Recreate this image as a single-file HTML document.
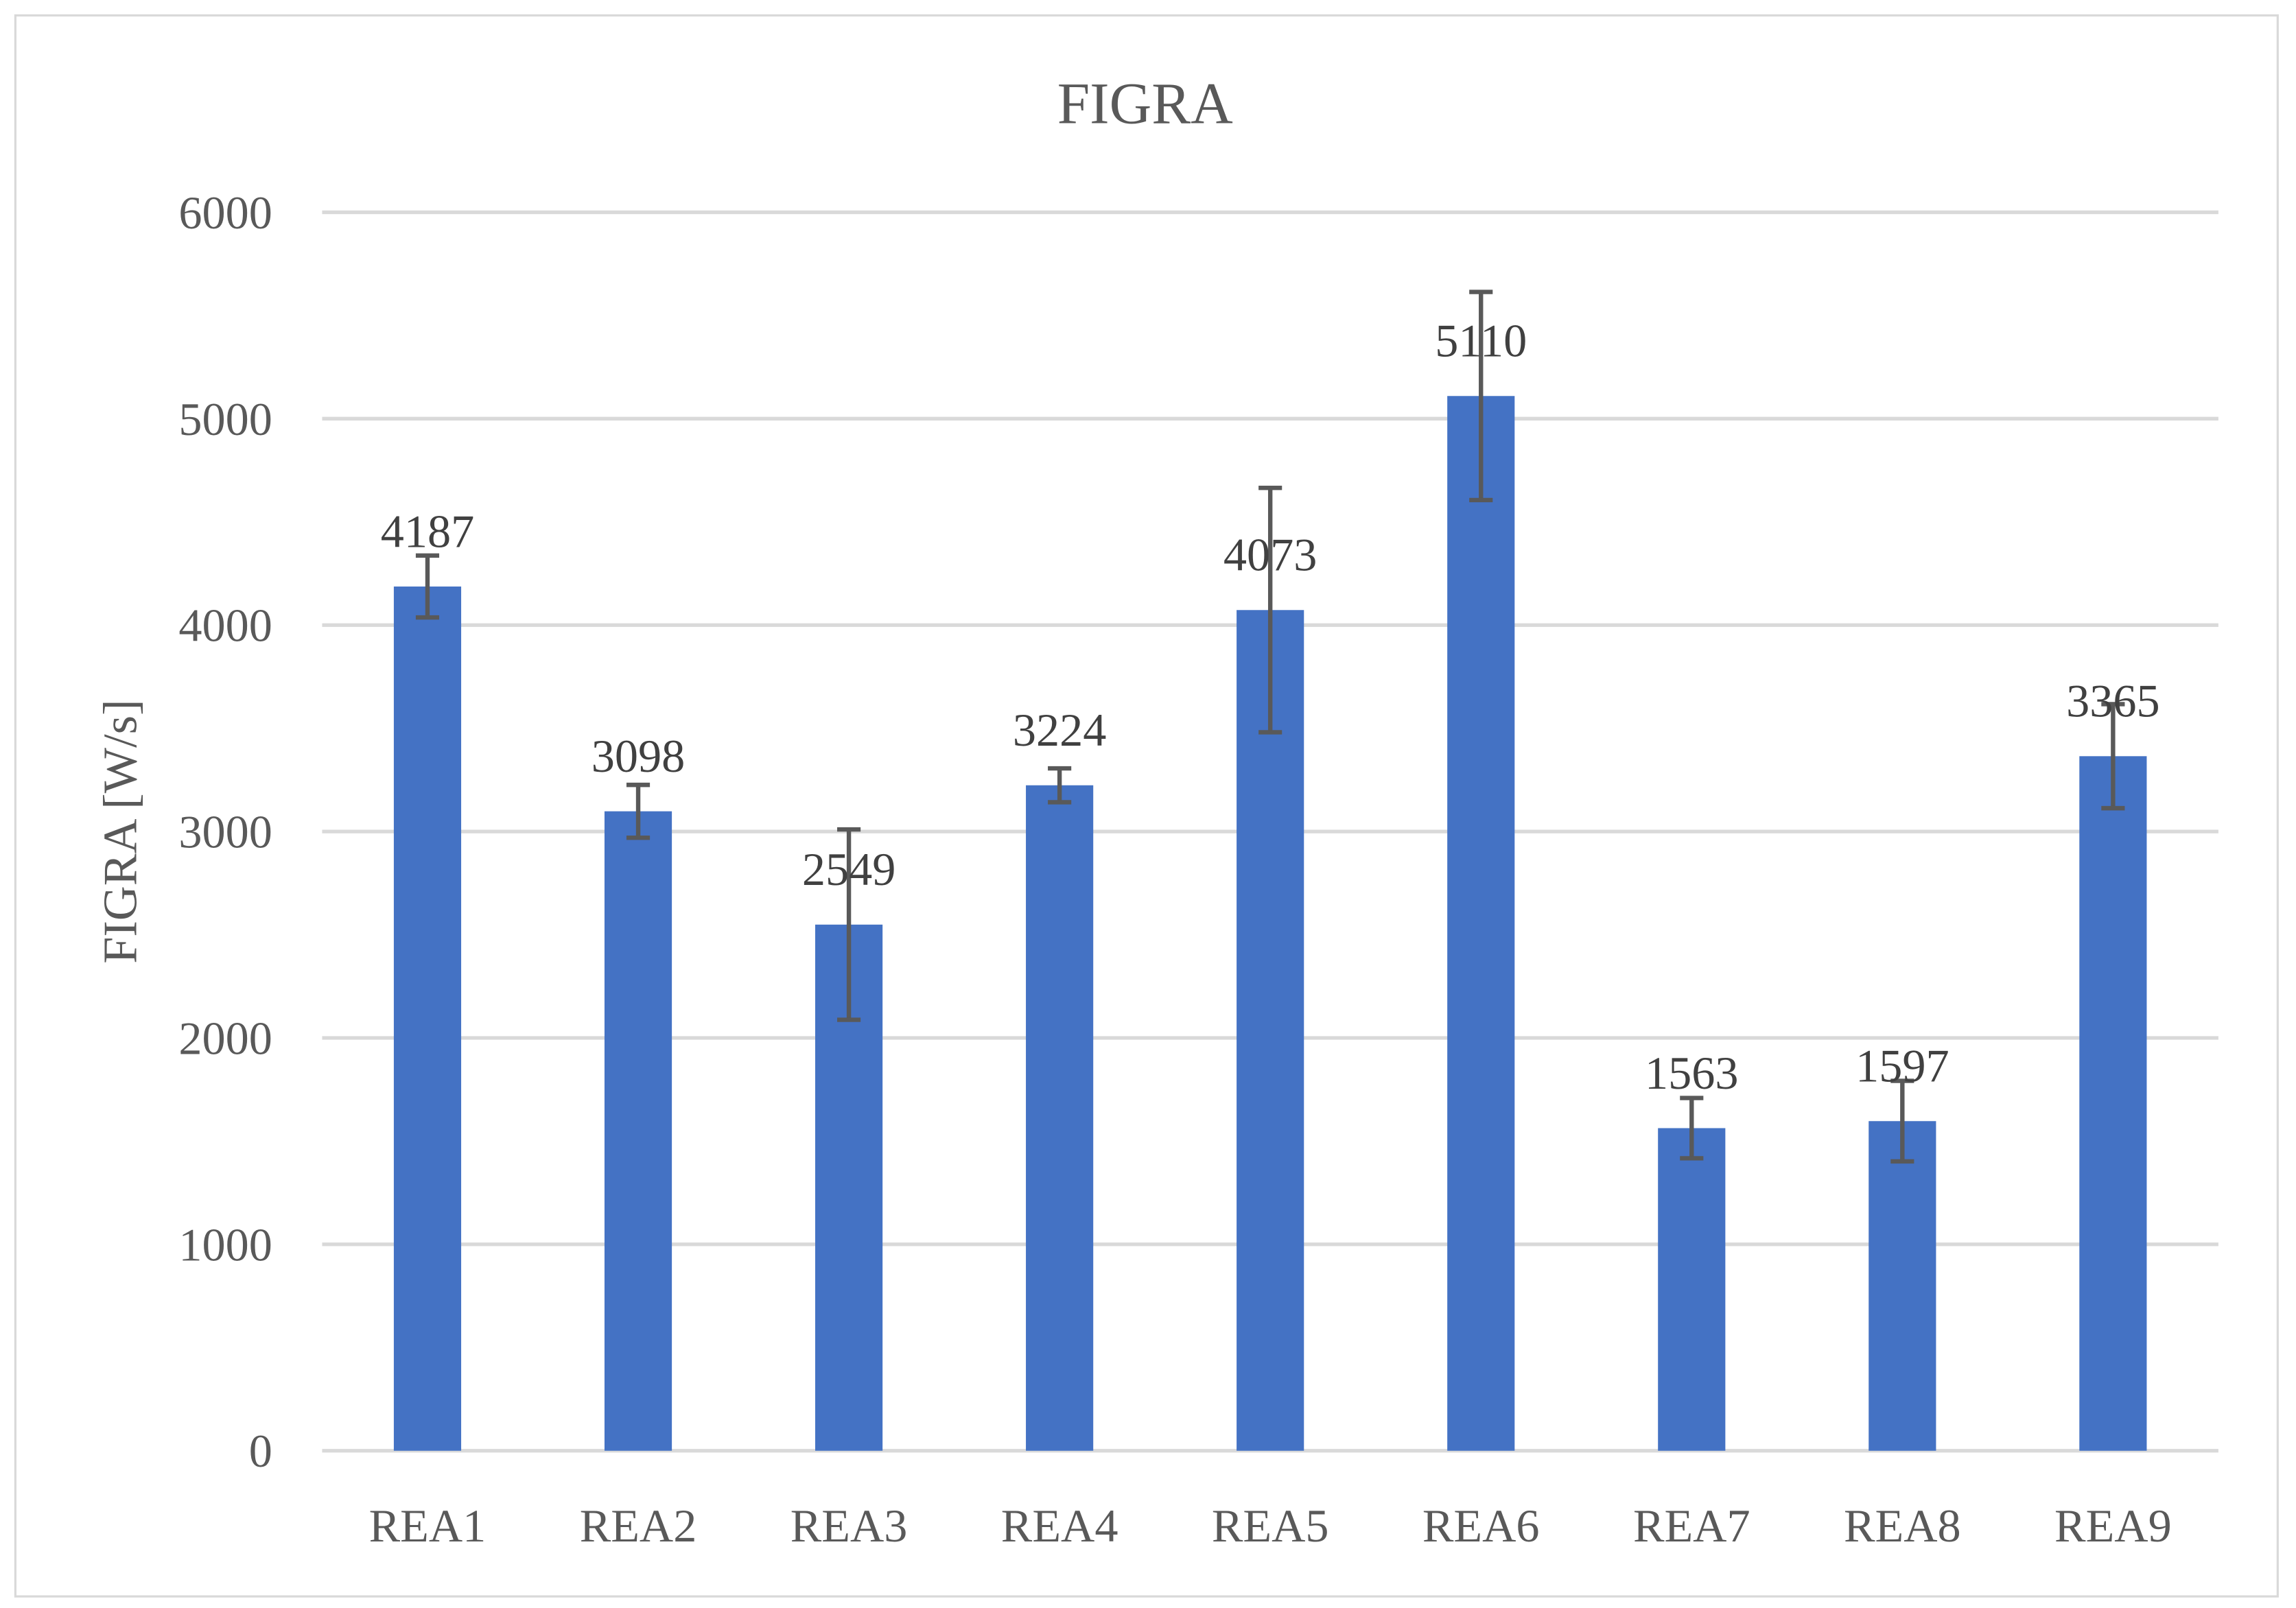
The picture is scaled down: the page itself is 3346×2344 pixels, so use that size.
<!DOCTYPE html>
<html><head><meta charset="utf-8">
<style>
html,body{margin:0;padding:0;background:#fff;}
svg{display:block;}
text{font-family:"Liberation Serif",serif;}
</style></head>
<body>
<svg id="chart" width="3346" height="2344" viewBox="0 0 1568 1098.4" xmlns="http://www.w3.org/2000/svg">
<rect x="10.5" y="10.5" width="1545" height="1080" fill="#fff" stroke="#d9d9d9" stroke-width="1.5"/>
<text x="782" y="84" font-size="40" fill="#595959" text-anchor="middle">FIGRA</text>
<text transform="translate(93,568) rotate(-90)" font-size="33" fill="#595959" text-anchor="middle">FIGRA [W/s]</text>
<g id="grid"></g><g id="bars"></g><g id="errs"></g><g id="labels"></g>
</svg>
<script>
const categories=["REA1","REA2","REA3","REA4","REA5","REA6","REA7","REA8","REA9"];
const values=[4187,3098,2549,3224,4073,5110,1563,1597,3365];
const errors=[150,128,461,82,592,504,146,195,252];
const yTicks=[0,1000,2000,3000,4000,5000,6000];
const NS="http://www.w3.org/2000/svg";
const x0=220,x1=1515,yBase=991,yTop=145,yMax=6000;
const y=v=>yBase-(v/yMax)*(yBase-yTop);
const band=(x1-x0)/categories.length;
const xc=i=>x0+band*(i+0.5);
function mk(tag,attrs,parent){const e=document.createElementNS(NS,tag);for(const k in attrs)e.setAttribute(k,attrs[k]);parent.appendChild(e);return e;}
const grid=document.getElementById('grid'),bars=document.getElementById('bars'),errs=document.getElementById('errs'),labels=document.getElementById('labels');
yTicks.forEach(t=>{
  const l=mk('line',{x1:x0,x2:x1,y1:y(t),y2:y(t),stroke:'#d9d9d9','stroke-width':2.5},grid);
  
  
  const tx=mk('text',{x:186,y:y(t)+11,'font-size':32,fill:'#595959','text-anchor':'end'},grid);
  tx.textContent=t;
  
  
});
categories.forEach((c,i)=>{
  const w=46,cx=xc(i),v=values[i],e=errors[i];
  const r=mk('rect',{x:cx-w/2,y:y(v),width:w,height:yBase-y(v),fill:'#4472c4'},bars);
  
  
  const g=mk('g',{stroke:'#595959','stroke-width':3},errs);
  
  
  mk('line',{x1:cx,x2:cx,y1:y(v+e),y2:y(v-e)},g);
  mk('line',{x1:cx-8,x2:cx+8,y1:y(v+e),y2:y(v+e)},g);
  mk('line',{x1:cx-8,x2:cx+8,y1:y(v-e),y2:y(v-e)},g);
  const lb=mk('text',{x:cx,y:y(v)-27,'font-size':32,fill:'#404040','text-anchor':'middle'},labels);
  lb.textContent=v;
  
  
  const xl=mk('text',{x:cx,y:1053,'font-size':32,fill:'#595959','text-anchor':'middle'},labels);
  xl.textContent=c;
  
  
});
</script>
</body></html>
